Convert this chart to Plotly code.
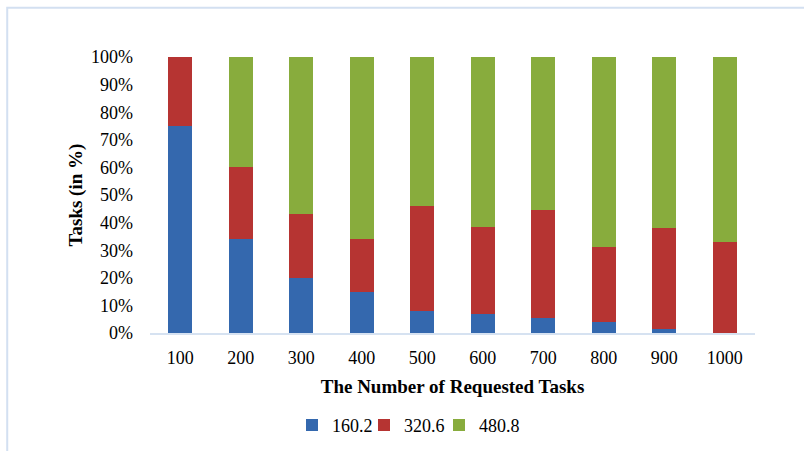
import plotly.graph_objects as go

# Share of tasks (in %) per task-size class, for each number of requested tasks
categories = ["100", "200", "300", "400", "500", "600", "700", "800", "900", "1000"]
series_names = ["160.2", "320.6", "480.8"]
share_160_2 = [75.0, 34.0, 20.0, 15.0, 8.0, 7.0, 5.5, 4.0, 1.5, 0.0]
share_320_6 = [25.0, 26.0, 23.0, 19.0, 38.0, 31.5, 39.0, 27.0, 36.5, 33.0]
share_480_8 = [0.0, 40.0, 57.0, 66.0, 54.0, 61.5, 55.5, 69.0, 62.0, 67.0]
y_ticks = [0, 10, 20, 30, 40, 50, 60, 70, 80, 90, 100]

colors = ["#3468AE", "#B63432", "#88AC3D"]
font_family = "Liberation Serif, Times New Roman, serif"

# one small legend per series so the entries sit close together
legend_ids = ["legend", "legend2", "legend3"]
legend_x = [292, 364, 439]

fig = go.Figure()
for name, vals, col, lg in zip(series_names, [share_160_2, share_320_6, share_480_8], colors, legend_ids):
    fig.add_trace(go.Bar(
        x=categories, y=vals, name=name, legend=lg,
        marker=dict(color=col, line=dict(width=0)),
    ))

legend_style = dict(
    orientation="h", xref="container", xanchor="left",
    yref="container", y=0.057, yanchor="middle",
    font=dict(size=18), itemwidth=30, bgcolor="rgba(0,0,0,0)",
)
legend_layout = {
    lg: dict(legend_style, x=px / 804) for lg, px in zip(legend_ids, legend_x)
}

fig.update_layout(
    width=804, height=451,
    barmode="stack", bargap=0.6,
    margin=dict(l=150, r=49, t=57, b=118),
    paper_bgcolor="white", plot_bgcolor="white",
    font=dict(family=font_family, size=18, color="#000000"),
    showlegend=True,
    shapes=[dict(
        type="rect", xref="paper", yref="paper",
        x0=-0.236, x1=1.2, y0=-0.6, y1=1.178,
        line=dict(color="#D3E0F1", width=2), fillcolor="rgba(0,0,0,0)",
        layer="below",
    )],
    **legend_layout,
)
fig.update_xaxes(
    type="category", showgrid=False, showline=True,
    linecolor="#D6E2F1", linewidth=2, ticks="", ticklabelstandoff=7,
    title=dict(text="<b>The Number of Requested Tasks</b>", font=dict(size=19), standoff=13),
)
fig.update_yaxes(
    range=[0, 100], tickvals=y_ticks, ticktext=[f"{v}%" for v in y_ticks],
    showgrid=False, showline=False, zeroline=False, ticks="",
    ticklabelstandoff=16,
    title=dict(text="<b>Tasks (in %)</b>", font=dict(size=19), standoff=3),
)

fig.write_html("out.html")
